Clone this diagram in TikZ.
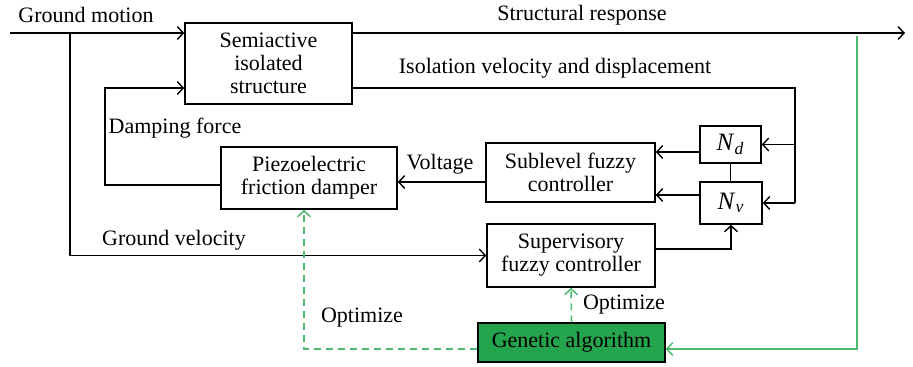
\documentclass[tikz,border=0pt]{standalone}
\usepackage{fontspec}
\setmainfont{Liberation Serif}
\usetikzlibrary{arrows.meta,calc}
\definecolor{gafill}{RGB}{36,164,76}
\definecolor{galine}{RGB}{76,186,112}
\begin{document}
\begin{tikzpicture}[x=0.5pt,y=-0.5pt,
  font=\fontsize{11}{11.5}\selectfont,
  box/.style={draw, line width=0.75pt, inner sep=0pt, align=center},
  arr/.style={line width=0.7pt, -{Straight Barb[length=3pt,width=6.4pt]}},
  ln/.style={line width=0.7pt},
  garr/.style={galine, line width=0.75pt, -{Straight Barb[length=3pt,width=6.4pt]}},
  gdash/.style={garr, dash pattern=on 3.5pt off 2.5pt},
  lbl/.style={inner sep=0pt},
  nbox/.style={box, font=\fontsize{12.5}{13}\selectfont}]
\useasboundingbox (0,0) rectangle (913,366);
% blocks
\node[box, minimum width=83.5pt, minimum height=40.5pt] (semi) at (268.5,63.5) {Semiactive\\isolated\\structure};
\node[box, minimum width=88pt, minimum height=31pt] (piezo) at (309,178) {Piezoelectric\\friction damper};
\node[box, minimum width=84.5pt, minimum height=29.5pt] (sub) at (570.5,172.5) {Sublevel fuzzy\\controller};
\node[nbox, minimum width=30.5pt, minimum height=18.5pt] (Nd) at (730.5,144.5) {\textit{N}\textsubscript{\textit{d}}};
\node[nbox, minimum width=31pt, minimum height=21pt] (Nv) at (731,203) {\textit{N}\textsubscript{\textit{v}}};
\node[box, minimum width=84pt, minimum height=31.5pt] (sup) at (571,255.5) {Supervisory\\fuzzy controller};
\node[box, fill=gafill, minimum width=93.5pt, minimum height=19.5pt] (gen) at (571.5,342.5) {Genetic algorithm};
% labels
\node[lbl] (tgm) at (86,15) {Ground motion};
\node[lbl] (tsr) at (582,15) {Structural response};
\node[lbl] (tiv) at (555,68) {Isolation velocity and displacement};
\node[lbl] (tdf) at (175,128) {Damping force};
\node[lbl] (tvo) at (440,164) {Voltage};
\node[lbl] (tgv) at (174,240) {Ground velocity};
\node[lbl] (top1) at (362,318) {Optimize};
\node[lbl] (top2) at (624,305) {Optimize};
% coordinates
\coordinate (gm0) at (10,33);
\coordinate (gmb) at (70,33);
\coordinate (out) at (905,33);
\coordinate (iso) at (795,88);
\coordinate (dfc) at (105,88);
\coordinate (gtop) at (857,36);
\coordinate (gdl) at (304,349);
% connectors
\draw[arr] (gm0) -- (gm0 -| semi.west);
\draw[arr] (gmb) |- (sup.west);
\draw[arr] (gm0 -| semi.east) -- (out);
\draw[ln] (iso -| semi.east) -- (iso) -- (iso |- Nv.east);
\draw[arr] (iso |- Nv.east) -- (Nv.east);
\draw[arr] (iso |- Nd.east) -- (Nd.east);
\draw[arr] (Nd.west |- 0,152) -- (sub.east |- 0,152);
\draw[arr] (Nv.west |- 0,195) -- (sub.east |- 0,195);
\draw[ln] (Nd.south) -- (Nd.south |- Nv.north);
\draw[arr] (sub.west |- 0,182) -- (piezo.east |- 0,182);
\draw[arr] (piezo.west |- 0,185) -| (dfc) -- (dfc -| semi.west);
\draw[arr] (sup.east |- 0,249) -| (Nv.south);
\draw[gdash] (gen.north) -- (sup.south);
\draw[gdash] (gen.west |- gdl) -- (gdl) -- (gdl |- piezo.south);
\draw[garr] (gtop) |- (gen.east |- gdl);
\end{tikzpicture}
\end{document}
